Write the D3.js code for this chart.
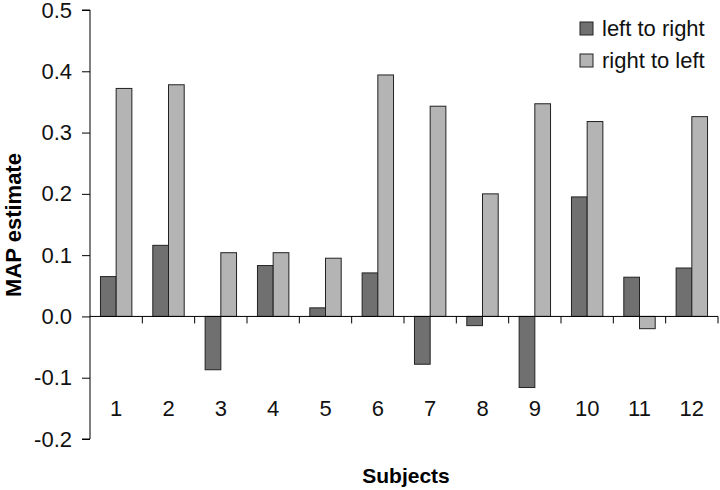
<!DOCTYPE html>
<html>
<head>
<meta charset="utf-8">
<script src="https://cdn.jsdelivr.net/npm/d3@7"></script>
<style>
  body { margin: 0; background: #fff; }
  svg { display: block; font-family: "Liberation Sans", Arial, sans-serif; }
</style>
</head>
<body>
<svg id="chart"></svg>
<script>
// data
const subjects = ["1", "2", "3", "4", "5", "6", "7", "8", "9", "10", "11", "12"];
const series = ["left to right", "right to left"];
const leftToRight = [0.065, 0.116, -0.087, 0.083, 0.014, 0.071, -0.078, -0.015, -0.116, 0.195, 0.064, 0.079];
const rightToLeft = [0.372, 0.378, 0.104, 0.104, 0.095, 0.394, 0.343, 0.200, 0.347, 0.318, -0.020, 0.326];
const yTicks = [-0.2, -0.1, 0.0, 0.1, 0.2, 0.3, 0.4, 0.5];
const colors = ["#707070", "#b4b4b4"];

const width = 720, height = 490;
const svg = d3.select("#chart").attr("width", width).attr("height", height);

// scales
const x = d3.scaleBand().domain(subjects).range([90, 718]);
const groupW = x.bandwidth() * 0.6;
const x1 = d3.scaleBand().domain(series).range([0, groupW]);
const y = d3.scaleLinear().domain([-0.2, 0.5]).range([439, 10]);

const rows = subjects.map((s, i) => ({ s: s, vals: [leftToRight[i], rightToLeft[i]] }));

// bars
const g = svg.append("g");
g.selectAll("g.grp")
  .data(rows)
  .join("g")
  .attr("class", "grp")
  .attr("transform", d => `translate(${x(d.s) + (x.bandwidth() - groupW) / 2},0)`)
  .selectAll("rect")
  .data(d => d.vals.map((v, k) => ({ v: v, k: k })))
  .join("rect")
  .attr("x", d => x1(series[d.k]))
  .attr("width", x1.bandwidth())
  .attr("y", d => y(Math.max(0, d.v)))
  .attr("height", d => Math.abs(y(d.v) - y(0)))
  .attr("fill", d => colors[d.k])
  .attr("stroke", "#222")
  .attr("stroke-width", 1);

// y axis (hyphen minus like the original)
const fmt = d3.format(".1f");
const yAxis = svg.append("g")
  .attr("transform", "translate(90,0)")
  .call(d3.axisLeft(y).tickValues(yTicks)
    .tickFormat(d => fmt(d).replace("\u2212", "-"))
    .tickSize(8).tickPadding(10));
yAxis.select(".domain").attr("d", `M-8,${y(0.5)}H0V${y(-0.2)}H-8`);
yAxis.selectAll("text")
  .attr("font-size", 22)
  .attr("font-family", "Liberation Sans, Arial, sans-serif")
  .attr("fill", "#111");

// x axis (zero line + boundary ticks)
svg.append("line")
  .attr("x1", 90).attr("x2", 718)
  .attr("y1", y(0)).attr("y2", y(0))
  .attr("stroke", "#000");
svg.append("g").selectAll("line")
  .data(subjects)
  .join("line")
  .attr("x1", d => x(d) + x.bandwidth())
  .attr("x2", d => x(d) + x.bandwidth())
  .attr("y1", y(0)).attr("y2", y(0) + 7)
  .attr("stroke", "#000");

// subject labels
svg.append("g").selectAll("text")
  .data(subjects)
  .join("text")
  .attr("x", d => x(d) + x.bandwidth() / 2)
  .attr("y", 416)
  .attr("text-anchor", "middle")
  .attr("font-size", 22)
  .attr("fill", "#111")
  .text(d => d);

// axis titles
svg.append("text")
  .attr("x", 406).attr("y", 483)
  .attr("text-anchor", "middle")
  .attr("font-size", 21)
  .attr("font-weight", "bold")
  .text("Subjects");

svg.append("text")
  .attr("transform", "translate(21,225) rotate(-90)")
  .attr("text-anchor", "middle")
  .attr("font-size", 22)
  .attr("font-weight", "bold")
  .text("MAP estimate");

// legend
const legend = svg.append("g").selectAll("g")
  .data(series)
  .join("g")
  .attr("transform", (d, i) => `translate(580,${22 + i * 32})`);
legend.append("rect")
  .attr("width", 13).attr("height", 13)
  .attr("fill", (d, i) => colors[i])
  .attr("stroke", "#222");
legend.append("text")
  .attr("x", 22).attr("y", 14)
  .attr("font-size", 22)
  .attr("fill", "#111")
  .text(d => d);
</script>
</body>
</html>
